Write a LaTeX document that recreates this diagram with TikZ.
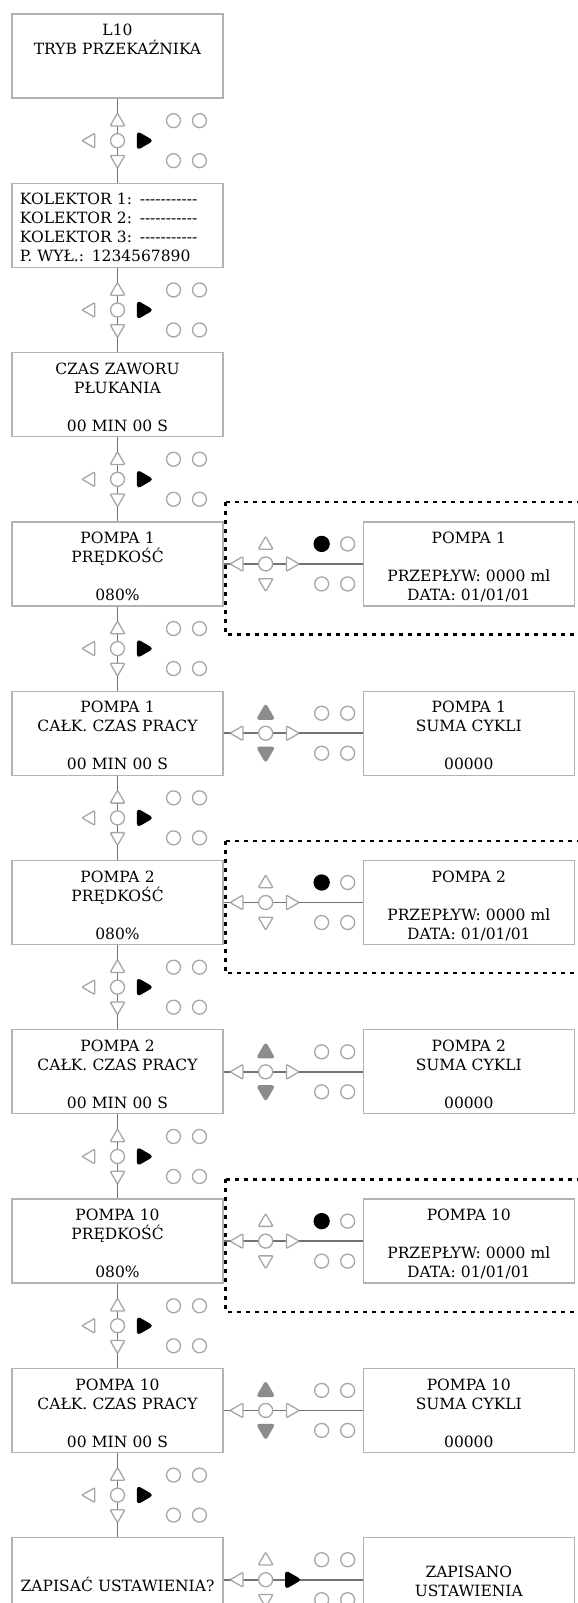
\documentclass[tikz,border=0pt]{standalone}
\usepackage{fontspec}
\setmainfont{DejaVu Serif}
\usepackage{tikz}
\usetikzlibrary{shapes,positioning}
\tikzset{screen/.style = {draw=black!30, line width=1.3bp, rectangle, minimum width=211bp, minimum height=84bp, inner sep=0pt,
                          text width=195bp, text height=21.6bp, text depth=62.4bp, align=center, font=\fontsize{15.5bp}{19bp}\selectfont},
         btn/.style = {regular polygon, regular polygon sides=3, draw=black!35, fill=white, line width=1.3bp, minimum size=17bp, inner sep=0pt, rounded corners=1bp},
         press/.style = {fill=black, draw=black, minimum size=20bp, rounded corners=3bp},
         hold/.style = {fill=black!45, draw=black!45, minimum size=20bp, rounded corners=2.5bp},
         lamp/.style = {circle, draw=black!35, fill=white, line width=1.3bp, minimum size=14bp, inner sep=0pt},
         lit/.style = {fill=black, draw=black, minimum size=15bp},
         wire/.style = {draw=black!55, line width=1.8bp},
         frame/.style = {draw=black, line width=2.4bp, dash pattern=on 4bp off 5bp},
}
\newcommand{\dashes}{-{}-{}-{}-{}-{}-{}-{}-{}-{}-{}-}
% #1 name, #2 centre, #3 up/down, #4 right key, #5 first lamp
\newcommand{\keypad}[5]{%
  \node[btn, #3, yshift=19bp] (#1u) at (#2) {};
  \node[btn, #3, shape border rotate=180, yshift=-19bp] (#1d) at (#2) {};
  \node[btn, shape border rotate=90, xshift=-27bp] (#1l) at (#2) {};
  \node[btn, #4, shape border rotate=-90, xshift=25bp] (#1r) at (#2) {};
  \node[lamp] (#1c) at (#2) {};
  \node[lamp, #5, xshift=56bp, yshift=20bp] (#1a) at (#2) {};
  \node[lamp, xshift=82bp, yshift=20bp] (#1b) at (#2) {};
  \node[lamp, xshift=56bp, yshift=-20bp] (#1e) at (#2) {};
  \node[lamp, xshift=82bp, yshift=-20bp] (#1f) at (#2) {};
}

\begin{document}
\begin{tikzpicture}[x=1bp, y=1bp, node distance = 84bp]
  \useasboundingbox (0,0) rectangle (578,-1603);
  \clip (0,0) rectangle (578,-1603);

  \node[screen] (MODE) at (117.5,-56) {L10\\TRYB PRZEKAŹNIKA\\\mbox{}\\\mbox{}};
  \node[screen, below = of MODE, align=left] (KOL) {KOLEKTOR 1: \dashes\\KOLEKTOR 2: \dashes\\KOLEKTOR 3: \dashes\\P. WYŁ.: 1234567890};
  \node[screen, below = of KOL] (FLUSH) {CZAS ZAWORU\\PŁUKANIA\\\mbox{}\\00 MIN 00 S};
  \node[screen, below = of FLUSH] (P1SPD) {POMPA 1\\PRĘDKOŚĆ\\\mbox{}\\080\%};
  \node[screen, below = of P1SPD] (P1RUN) {POMPA 1\\CAŁK. CZAS PRACY\\\mbox{}\\00 MIN 00 S};
  \node[screen, below = of P1RUN] (P2SPD) {POMPA 2\\PRĘDKOŚĆ\\\mbox{}\\080\%};
  \node[screen, below = of P2SPD] (P2RUN) {POMPA 2\\CAŁK. CZAS PRACY\\\mbox{}\\00 MIN 00 S};
  \node[screen, below = of P2RUN] (P10SPD) {POMPA 10\\PRĘDKOŚĆ\\\mbox{}\\080\%};
  \node[screen, below = of P10SPD] (P10RUN) {POMPA 10\\CAŁK. CZAS PRACY\\\mbox{}\\00 MIN 00 S};
  \node[screen, below = of P10RUN, text height=53.5bp, text depth=30.5bp] (SAVE) {ZAPISAĆ USTAWIENIA?};

  \node[screen, right = 139bp of P1SPD] (P1FLOW) {POMPA 1\\\mbox{}\\PRZEPŁYW: 0000 ml\\DATA: 01/01/01};
  \node[screen, right = 139bp of P1RUN] (P1CYC) {POMPA 1\\SUMA CYKLI\\\mbox{}\\00000};
  \node[screen, right = 139bp of P2SPD] (P2FLOW) {POMPA 2\\\mbox{}\\PRZEPŁYW: 0000 ml\\DATA: 01/01/01};
  \node[screen, right = 139bp of P2RUN] (P2CYC) {POMPA 2\\SUMA CYKLI\\\mbox{}\\00000};
  \node[screen, right = 139bp of P10SPD] (P10FLOW) {POMPA 10\\\mbox{}\\PRZEPŁYW: 0000 ml\\DATA: 01/01/01};
  \node[screen, right = 139bp of P10RUN] (P10CYC) {POMPA 10\\SUMA CYKLI\\\mbox{}\\00000};
  \node[screen, right = 139bp of SAVE, text height=39.5bp, text depth=44.5bp] (SAVED) {ZAPISANO\\USTAWIENIA};

  \coordinate[below = 42bp of MODE] (k1);
  \coordinate[below = 42bp of KOL] (k2);
  \coordinate[below = 42bp of FLUSH] (k3);
  \coordinate[below = 42bp of P1SPD] (k4);
  \coordinate[below = 42bp of P1RUN] (k5);
  \coordinate[below = 42bp of P2SPD] (k6);
  \coordinate[below = 42bp of P2RUN] (k7);
  \coordinate[below = 42bp of P10SPD] (k8);
  \coordinate[below = 42bp of P10RUN] (k9);

  \coordinate[right = 42bp of P1SPD] (h1);
  \coordinate[right = 42bp of P1RUN] (h2);
  \coordinate[right = 42bp of P2SPD] (h3);
  \coordinate[right = 42bp of P2RUN] (h4);
  \coordinate[right = 42bp of P10SPD] (h5);
  \coordinate[right = 42bp of P10RUN] (h6);
  \coordinate[right = 42bp of SAVE] (h7);

  \draw[wire] (MODE) -- (KOL);
  \draw[wire] (KOL) -- (FLUSH);
  \draw[wire] (FLUSH) -- (P1SPD);
  \draw[wire] (P1SPD) -- (P1RUN);
  \draw[wire] (P1RUN) -- (P2SPD);
  \draw[wire] (P2SPD) -- (P2RUN);
  \draw[wire] (P2RUN) -- (P10SPD);
  \draw[wire] (P10SPD) -- (P10RUN);
  \draw[wire] (P10RUN) -- (SAVE);

  \draw[wire] (P1SPD) -- (P1FLOW);
  \draw[wire] (P1RUN) -- (P1CYC);
  \draw[wire] (P2SPD) -- (P2FLOW);
  \draw[wire] (P2RUN) -- (P2CYC);
  \draw[wire] (P10SPD) -- (P10FLOW);
  \draw[wire] (P10RUN) -- (P10CYC);
  \draw[wire] (SAVE) -- (SAVED);

  \keypad{k1}{k1}{}{press}{}
  \keypad{k2}{k2}{}{press}{}
  \keypad{k3}{k3}{}{press}{}
  \keypad{k4}{k4}{}{press}{}
  \keypad{k5}{k5}{}{press}{}
  \keypad{k6}{k6}{}{press}{}
  \keypad{k7}{k7}{}{press}{}
  \keypad{k8}{k8}{}{press}{}
  \keypad{k9}{k9}{}{press}{}

  \keypad{h1}{h1}{}{}{lit}
  \keypad{h2}{h2}{hold}{}{}
  \keypad{h3}{h3}{}{}{lit}
  \keypad{h4}{h4}{hold}{}{}
  \keypad{h5}{h5}{}{}{lit}
  \keypad{h6}{h6}{hold}{}{}
  \keypad{h7}{h7}{}{press}{}

  \draw[frame] ([shift={(2,19)}]P1SPD.north east) rectangle ([shift={(20,-28)}]P1FLOW.south east);
  \draw[frame] ([shift={(2,19)}]P2SPD.north east) rectangle ([shift={(20,-28)}]P2FLOW.south east);
  \draw[frame] ([shift={(2,19)}]P10SPD.north east) rectangle ([shift={(20,-28)}]P10FLOW.south east);
\end{tikzpicture}
\end{document}
